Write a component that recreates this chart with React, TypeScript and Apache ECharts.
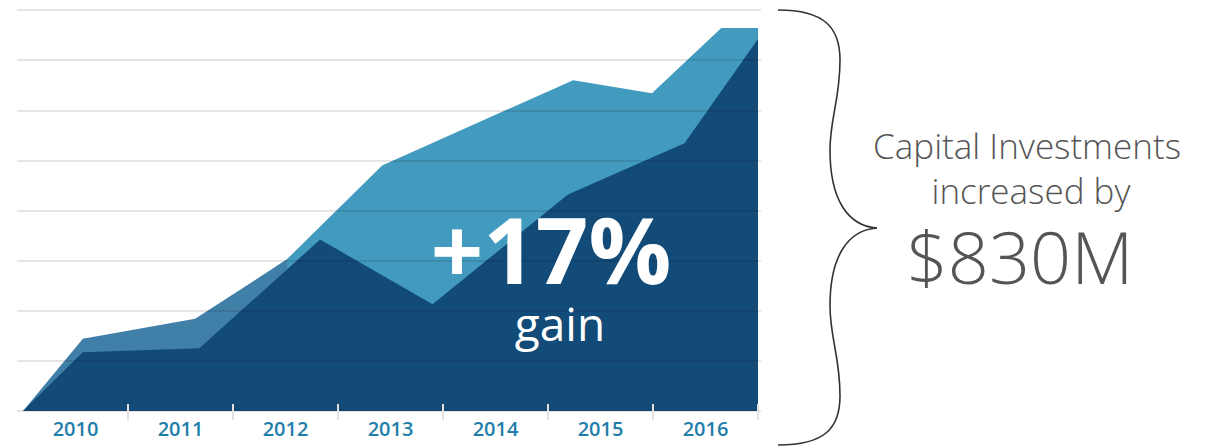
import React, { useEffect, useRef } from "react";
import * as echarts from "echarts";

// Category tick labels
const years = ["2010", "2011", "2012", "2013", "2014", "2015", "2016"];

// Light (back) series vertices: decimal year and value
const lightX = [2010, 2010.57, 2011.64, 2012.51, 2013.42, 2015.24, 2015.99, 2016.65, 2017.0];
const lightY = [0, 1.44, 1.84, 3.02, 4.9, 6.6, 6.34, 7.64, 7.64];

// Dark (front) series vertices
const darkX = [2010, 2010.57, 2011.68, 2012.83, 2013.9, 2015.19, 2016.3, 2017.0];
const darkY = [0, 1.17, 1.25, 3.42, 2.13, 4.32, 5.34, 7.42];

const gainText = "+17%";
const gainLabel = "gain";
const noteLines = ["Capital Investments", "increased by"];
const noteValue = "$830M";

const LIGHT = "#429bbe";
const STEEL = "#407fa8";
const DARK = "#124a78";

export default function App() {
  const ref = useRef<HTMLDivElement>(null);

  useEffect(() => {
    if (!ref.current) return;
    const chart = echarts.init(ref.current, null, { renderer: "svg" });

    const lightData = lightX.map((x, i) => [x, lightY[i]]);
    const darkData = darkX.map((x, i) => [x, darkY[i]]);
    const split = (lightX[3] - 2010) / 7;

    const braceStyle = { stroke: "#333333", lineWidth: 1.6, fill: "none" };
    const bez = (x1: number, y1: number, c1x: number, c1y: number, c2x: number, c2y: number, x2: number, y2: number) => ({
      type: "bezierCurve",
      shape: { x1, y1, cpx1: c1x, cpy1: c1y, cpx2: c2x, cpy2: c2y, x2, y2 },
      style: braceStyle,
      z: 100,
    });

    const font = "'Open Sans', 'Noto Sans', sans-serif";

    chart.setOption({
      animation: false,
      grid: [
        { left: 17, right: 457, top: 10, bottom: 35 },
        { left: 23, right: 460, top: 10, bottom: 35 },
      ],
      xAxis: [
        { type: "value", gridIndex: 0, min: 0, max: 1, show: false },
        {
          type: "category",
          gridIndex: 1,
          position: "bottom",
          data: years,
          boundaryGap: true,
          axisLine: { show: false },
          axisTick: {
            show: true,
            length: 9,
            interval: (index: number) => index !== 0,
            lineStyle: { color: "#e2e2e2", width: 2 },
          },
          axisLabel: {
            color: "#1f7eaa",
            fontSize: 20,
            fontWeight: 600,
            fontFamily: font,
            margin: 7,
          },
          z: 3,
        },
        {
          type: "category",
          gridIndex: 1,
          position: "bottom",
          data: years,
          boundaryGap: true,
          axisLine: { show: false },
          axisLabel: { show: false },
          axisTick: {
            show: true,
            inside: true,
            length: 7,
            interval: (index: number) => index !== 0,
            lineStyle: { color: "#e2e2e2", width: 2 },
          },
          z: 3,
        },
        { type: "value", gridIndex: 1, min: 2010, max: 2017, show: false },
      ],
      yAxis: [
        {
          type: "value",
          gridIndex: 0,
          min: 0,
          max: 8,
          interval: 1,
          axisLine: { show: false },
          axisTick: { show: false },
          axisLabel: { show: false },
          splitLine: { show: true, lineStyle: { color: "rgba(0,0,0,0.1)", width: 2 } },
          z: 3,
        },
        { type: "value", gridIndex: 1, min: 0, max: 8, show: false },
      ],
      series: [
        {
          type: "line",
          xAxisIndex: 3,
          yAxisIndex: 1,
          data: lightData,
          showSymbol: false,
          lineStyle: { width: 0 },
          areaStyle: {
            opacity: 1,
            color: new echarts.graphic.LinearGradient(0, 0, 1, 0, [
              { offset: 0, color: STEEL },
              { offset: split, color: STEEL },
              { offset: split, color: LIGHT },
              { offset: 1, color: LIGHT },
            ]),
          },
          z: 1,
        },
        {
          type: "line",
          xAxisIndex: 3,
          yAxisIndex: 1,
          data: darkData,
          showSymbol: false,
          lineStyle: { width: 0 },
          areaStyle: { opacity: 1, color: DARK },
          z: 2,
        },
      ],
      graphic: [
        {
          type: "text",
          x: 551,
          y: 248,
          z: 100,
          style: {
            text: gainText,
            fill: "#ffffff",
            font: `bold 92px ${font}`,
            lineHeight: 70,
            align: "center",
            verticalAlign: "middle",
          },
        },
        {
          type: "text",
          x: 560,
          y: 323,
          z: 100,
          style: {
            text: gainLabel,
            fill: "#ffffff",
            font: `normal 46px ${font}`,
            lineHeight: 40,
            align: "center",
            verticalAlign: "middle",
          },
        },
        {
          type: "text",
          x: 1027,
          y: 145,
          z: 100,
          style: {
            text: noteLines[0],
            fill: "#555555",
            font: `300 35px ${font}`,
            lineHeight: 34,
            align: "center",
            verticalAlign: "middle",
          },
        },
        {
          type: "text",
          x: 1031,
          y: 190,
          z: 100,
          style: {
            text: noteLines[1],
            fill: "#555555",
            font: `300 35px ${font}`,
            lineHeight: 34,
            align: "center",
            verticalAlign: "middle",
          },
        },
        {
          type: "text",
          x: 1020,
          y: 256,
          z: 100,
          style: {
            text: noteValue,
            fill: "#555555",
            font: `300 72px ${font}`,
            lineHeight: 58,
            align: "center",
            verticalAlign: "middle",
          },
        },
        bez(778, 10, 825, 10, 840, 28, 840, 60),
        bez(840, 60, 840, 100, 830, 118, 830, 150),
        bez(830, 150, 830, 200, 848, 226, 877, 228),
        bez(877, 228, 848, 230, 830, 256, 830, 306),
        bez(830, 306, 830, 338, 840, 356, 840, 396),
        bez(840, 396, 840, 428, 825, 445, 778, 445),
      ],
    });

    return () => chart.dispose();
  }, []);

  return (
    <div
      ref={ref}
      style={{ position: "fixed", left: 0, top: 0, width: 1218, height: 446, background: "#ffffff" }}
    />
  );
}
